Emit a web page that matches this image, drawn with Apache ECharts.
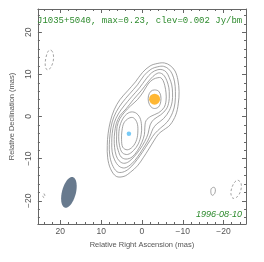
<!DOCTYPE html>
<html><head><meta charset="utf-8">
<script src="https://cdn.jsdelivr.net/npm/echarts@6/dist/echarts.min.js"></script>
<style>html,body{margin:0;padding:0;background:#fff}#c{width:264px;height:262px}</style>
</head><body><div id="c"></div>
<script>
// ---- text ----
const sourceLabel = 'J1035+5040, max=0.23, clev=0.002 Jy/bm';
const epochLabel = '1996-08-10';
const xAxisTitle = 'Relative Right Ascension (mas)';
const yAxisTitle = 'Relative Declination (mas)';
const raRange = [-25.5, 25.5];
const decRange = [-25.5, 25.5];

// ---- contour levels (RA mas, Dec mas) ----
const level1 = [[-3.9,12.6],[-5.5,12.7],[-6.9,12.1],[-8.1,10.8],[-8.8,8.7],[-9.1,5.9],[-8.9,3.0],[-8.3,0.4],[-6.9,-2.0],[-5.3,-3.2],[-4.1,-4.1],[-2.9,-5.8],[-1.7,-7.7],[-0.3,-9.8],[1.1,-11.7],[2.8,-13.2],[4.4,-14.2],[6.3,-14.2],[7.7,-12.4],[8.4,-9.8],[8.5,-6.9],[8.3,-4.1],[7.7,-1.0],[6.8,1.6],[5.4,4.0],[3.5,6.1],[1.6,8.2],[-0.1,10.4],[-2.0,12.0]];
const level2 = [[-3.9,11.8],[-5.3,11.9],[-6.5,11.3],[-7.4,10.1],[-8.0,8.2],[-8.2,5.9],[-8.1,3.2],[-7.5,0.9],[-6.2,-1.3],[-4.6,-2.7],[-3.1,-4.1],[-2.1,-5.5],[-0.9,-7.3],[0.4,-9.2],[1.8,-11.0],[3.2,-12.4],[4.7,-13.2],[6.1,-13.1],[7.3,-11.4],[7.9,-9.1],[8.0,-6.7],[7.8,-4.1],[7.3,-1.3],[6.3,1.1],[4.9,3.2],[3.0,5.4],[1.1,7.5],[-0.5,9.7],[-2.2,11.2]];
const level3 = [[-3.9,11.1],[-5.0,11.1],[-6.0,10.5],[-6.7,9.2],[-7.3,7.5],[-7.5,5.6],[-7.4,3.5],[-6.7,1.4],[-5.3,-0.5],[-3.6,-1.8],[-2.7,-2.9],[-2.2,-4.1],[-1.4,-5.8],[-0.2,-7.7],[1.1,-9.6],[2.5,-11.2],[4.2,-12.2],[5.6,-11.8],[6.7,-10.3],[7.3,-8.4],[7.4,-6.2],[7.3,-4.1],[6.8,-1.5],[5.8,0.6],[4.4,2.5],[2.5,4.7],[0.6,6.8],[-1.0,8.9],[-2.4,10.4]];
const level4 = [[-3.9,10.3],[-4.8,10.2],[-5.5,9.6],[-6.1,8.5],[-6.6,6.8],[-6.7,5.1],[-6.6,3.5],[-6.0,1.8],[-4.6,0.4],[-2.9,-0.7],[-2.0,-2.0],[-1.5,-4.1],[-0.7,-5.9],[0.5,-7.8],[1.8,-9.4],[3.2,-10.7],[4.5,-11.1],[5.6,-10.5],[6.3,-9.3],[6.7,-7.4],[6.8,-5.5],[6.7,-3.9],[6.3,-1.7],[5.4,0.2],[3.9,1.8],[2.1,4.0],[0.2,6.1],[-1.5,8.2],[-2.7,9.5]];
const level5 = [[-3.9,9.2],[-4.6,9.2],[-5.2,8.5],[-5.6,7.3],[-5.9,5.6],[-5.9,3.7],[-5.4,2.1],[-4.1,0.9],[-2.2,0.05],[-1.0,-1.0],[-0.7,-2.7],[-0.6,-4.3],[0.05,-6.2],[1.1,-8.1],[2.4,-9.6],[3.9,-10.1],[5.1,-9.6],[5.8,-8.1],[6.2,-6.5],[6.2,-4.6],[6.1,-2.4],[5.4,-0.5],[4.2,1.1],[2.8,2.5],[1.1,4.0],[-0.3,5.8],[-1.5,7.7],[-2.7,8.8]];
const level6Core = [[1.6,0.9],[0.5,-0.3],[0.1,-2.2],[0.2,-4.3],[0.9,-6.5],[2.1,-8.1],[3.5,-9.0],[4.8,-8.6],[5.5,-6.9],[5.7,-4.8],[5.4,-2.2],[4.4,-0.1],[3.0,1.0]];
const level6Jet = [[-3.1,6.3],[-4.1,6.0],[-4.6,4.9],[-4.6,3.5],[-4.1,2.3],[-3.1,1.9],[-2.2,2.3],[-1.6,3.5],[-1.6,4.9],[-2.2,6.0]];
const level7Core = [[2.1,-0.3],[1.2,-1.5],[1.0,-3.4],[1.3,-5.5],[2.3,-7.2],[3.6,-7.9],[4.7,-7.3],[5.0,-5.5],[4.9,-3.4],[4.4,-1.5],[3.2,-0.4]];
const isolatedPos = [[-17.7,-16.8],[-18.0,-17.4],[-17.8,-18.3],[-17.2,-18.7],[-16.9,-18.1],[-17.0,-17.1]];
const negTopLeft = [[22.2,15.7],[21.7,14.6],[21.8,12.9],[22.6,11.3],[23.3,11.1],[23.7,12.2],[23.5,14.1],[22.9,15.6]];
const negBottomRight = [[-23.5,-15.1],[-24.3,-15.9],[-24.2,-17.6],[-23.4,-19.0],[-22.3,-19.4],[-21.8,-18.3],[-22.1,-16.7],[-22.8,-15.5]];
const negBottomLeft = [[24.0,-18.3],[23.8,-18.8],[24.0,-19.3],[24.3,-18.8]];

// ---- model components & beam ----
const jetComponent = [[-3.1, 4.1]];
const coreComponent = [[3.2, -4.1]];
const beamCentre = [17.9, -18.0];
const beamMajor = 7.5, beamMinor = 3.4, beamPA = -15;

const contours = [
  {pts: level1, neg: false}, {pts: level2, neg: false}, {pts: level3, neg: false},
  {pts: level4, neg: false}, {pts: level5, neg: false}, {pts: level6Core, neg: false},
  {pts: level6Jet, neg: false}, {pts: level7Core, neg: false}, {pts: isolatedPos, neg: false},
  {pts: negTopLeft, neg: true}, {pts: negBottomRight, neg: true}, {pts: negBottomLeft, neg: true}
];

const chart = echarts.init(document.getElementById('c'), null, {renderer: 'canvas'});
const axisCol = '#666';
const minus = v => String(v).replace('-', '\u2212');
function baseAxis(range) {
  return {
    type: 'value', min: range[0], max: range[1],
    splitLine: {show: false},
    axisLine: {show: true, onZero: false, lineStyle: {color: axisCol, width: 1}},
    axisTick: {show: true, inside: true, length: 4, lineStyle: {color: axisCol}},
    minorTick: {show: true, splitNumber: 5, length: 2, lineStyle: {color: axisCol}},
    minorSplitLine: {show: false}
  };
}
const labelStyle = {fontSize: 8.5, color: '#555', fontFamily: 'Liberation Sans', showMinLabel: false, showMaxLabel: false, formatter: minus};

chart.setOption({
  animation: false,
  backgroundColor: '#fff',
  title: [
    {text: sourceLabel, left: 37, top: 16, padding: 0,
     textStyle: {fontFamily: 'Liberation Mono', fontSize: 9, fontWeight: 'normal', color: '#2e8b2e'}},
    {text: epochLabel, right: 22, top: 210, padding: 0,
     textStyle: {fontFamily: 'Liberation Sans', fontStyle: 'italic', fontSize: 9, fontWeight: 'normal', color: '#2e8b2e'}}
  ],
  grid: {left: 31, top: 9, width: 215, height: 215},
  xAxis: [
    Object.assign(baseAxis(raRange), {position: 'bottom', inverse: true,
      axisLabel: Object.assign({margin: 3}, labelStyle),
      name: xAxisTitle, nameLocation: 'middle', nameGap: 17,
      nameTextStyle: {fontSize: 7.5, color: '#555', fontFamily: 'Liberation Sans'}}),
    Object.assign(baseAxis(raRange), {position: 'top', inverse: true, axisLabel: {show: false}})
  ],
  yAxis: [
    Object.assign(baseAxis(decRange), {position: 'left',
      axisLabel: Object.assign({margin: 5, rotate: 90}, labelStyle),
      name: yAxisTitle, nameLocation: 'middle', nameGap: 16, nameRotate: 90,
      nameTextStyle: {fontSize: 7.5, color: '#555', fontFamily: 'Liberation Sans'}}),
    Object.assign(baseAxis(decRange), {position: 'right', axisLabel: {show: false}})
  ],
  series: [
    {
      type: 'custom', xAxisIndex: 0, yAxisIndex: 0, clip: true, silent: true,
      data: contours.map(c => c.pts[0]),
      renderItem: function (params, api) {
        const c = contours[params.dataIndex];
        return {
          type: 'polygon',
          shape: {points: c.pts.map(p => api.coord(p)), smooth: 0.35},
          style: {fill: 'none', stroke: '#8c8c8c', lineWidth: 0.8, lineDash: c.neg ? [2.5, 2] : null}
        };
      }
    },
    {
      type: 'custom', xAxisIndex: 0, yAxisIndex: 0, clip: true, silent: true,
      data: [beamCentre],
      renderItem: function (params, api) {
        const pa = beamPA * Math.PI / 180, a = beamMajor / 2, b = beamMinor / 2;
        const pts = [];
        for (let k = 0; k < 60; k++) {
          const t = 2 * Math.PI * k / 60;
          const x = beamCentre[0] + Math.cos(t) * a * Math.sin(pa) + Math.sin(t) * b * Math.cos(pa);
          const y = beamCentre[1] + Math.cos(t) * a * Math.cos(pa) - Math.sin(t) * b * Math.sin(pa);
          pts.push(api.coord([x, y]));
        }
        return {type: 'polygon', shape: {points: pts}, style: {fill: '#687a8e'}};
      }
    },
    {type: 'scatter', data: jetComponent, symbolSize: 11, itemStyle: {color: '#ffa500'}, silent: true, z: 5},
    {type: 'scatter', data: coreComponent, symbolSize: 4.5, itemStyle: {color: '#55bdf5'}, silent: true, z: 5}
  ]
});
</script></body></html>
